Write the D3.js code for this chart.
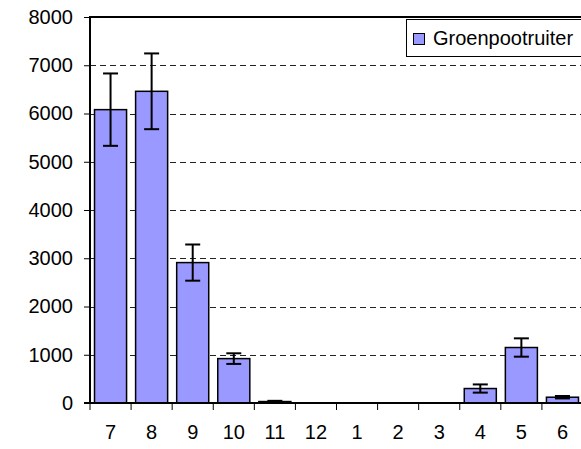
<!DOCTYPE html>
<html>
<head>
<meta charset="utf-8">
<script src="https://cdn.jsdelivr.net/npm/d3@7"></script>
<style>
  html, body { margin: 0; padding: 0; background: #fff; }
  svg { display: block; }
  text { font-family: "Liberation Sans", Arial, sans-serif; fill: #000; }
</style>
</head>
<body>
<script>
const months = ["7", "8", "9", "10", "11", "12", "1", "2", "3", "4", "5", "6"];
const values = [6080, 6460, 2910, 920, 30, 0, 0, 0, 0, 300, 1150, 120];
const errors = [750, 785, 375, 110, 15, 0, 0, 0, 0, 85, 190, 25];
const yTicks = [0, 1000, 2000, 3000, 4000, 5000, 6000, 7000, 8000];
const seriesName = "Groenpootruiter";

const W = 581, H = 449;
const pLeft = 90, pRight = 583, pTop = 17, pBottom = 403;

const svg = d3.select("body").append("svg").attr("width", W).attr("height", H);

const x = d3.scaleBand().domain(months).range([pLeft, pRight]).paddingInner(0.22).paddingOuter(0.11);
const y = d3.scaleLinear().domain([0, 8000]).range([pBottom, pTop]);

// gridlines
svg.append("g").selectAll("line").data(yTicks.filter(d => d > 0 && d < 8000)).join("line")
  .attr("x1", pLeft).attr("x2", pRight)
  .attr("y1", d => Math.round(y(d)) + 0.5).attr("y2", d => Math.round(y(d)) + 0.5)
  .attr("stroke", "#222").attr("stroke-width", 1).attr("stroke-dasharray", "6,4");

// plot border top
svg.append("line").attr("x1", pLeft).attr("x2", pRight + 5).attr("y1", pTop).attr("y2", pTop)
  .attr("stroke", "#000").attr("stroke-width", 2);

// bars
const data = months.map((m, i) => ({ m, v: values[i], e: errors[i] }));
svg.append("g").selectAll("rect").data(data).join("rect")
  .attr("x", d => x(d.m)).attr("width", x.bandwidth())
  .attr("y", d => y(d.v)).attr("height", d => y(0) - y(d.v))
  .attr("fill", "#9999FF").attr("stroke", "#000").attr("stroke-width", 1.5);

// error bars
const eg = svg.append("g").attr("stroke", "#000").attr("stroke-width", 2);
data.filter(d => d.e > 0).forEach(d => {
  const cx = x(d.m) + x.bandwidth() / 2;
  eg.append("line").attr("x1", cx).attr("x2", cx).attr("y1", y(d.v + d.e)).attr("y2", y(d.v - d.e));
  eg.append("line").attr("x1", cx - 7.5).attr("x2", cx + 7.5).attr("y1", y(d.v + d.e)).attr("y2", y(d.v + d.e));
  eg.append("line").attr("x1", cx - 7.5).attr("x2", cx + 7.5).attr("y1", y(d.v - d.e)).attr("y2", y(d.v - d.e));
});

// y axis
const yAxis = svg.append("g").attr("transform", `translate(${pLeft},0)`)
  .call(d3.axisLeft(y).tickValues(yTicks).tickSize(6).tickPadding(11).tickFormat(d3.format("d")));
yAxis.select(".domain").attr("stroke-width", 2).attr("d", `M0,${pTop - 1}V${pBottom + 1}`);
yAxis.selectAll(".tick line").attr("stroke-width", 1);
yAxis.selectAll("text").attr("font-size", 20).attr("font-family", "Liberation Sans, Arial, sans-serif");

// x axis
const xAxis = svg.append("g").attr("transform", `translate(0,${pBottom})`)
  .call(d3.axisBottom(x).tickSize(0).tickPadding(22));
xAxis.select(".domain").attr("stroke-width", 2).attr("d", `M${pLeft - 6},0H${pRight + 5}`);
xAxis.selectAll("text").attr("font-size", 20).attr("font-family", "Liberation Sans, Arial, sans-serif");
// band boundary ticks
const step = x.step();
const bounds = d3.range(months.length).map(i => x(months[i]) - x.paddingOuter() * step);
xAxis.append("g").selectAll("line").data(bounds).join("line")
  .attr("x1", d => d).attr("x2", d => d).attr("y1", 0).attr("y2", 7)
  .attr("stroke", "#000").attr("stroke-width", 1);

// legend
const lg = svg.append("g");
lg.append("rect").attr("x", 406.5).attr("y", 19.5).attr("width", 200).attr("height", 37)
  .attr("fill", "#fff").attr("stroke", "#000").attr("stroke-width", 1);
lg.append("rect").attr("x", 413.5).attr("y", 33.5).attr("width", 11).attr("height", 11)
  .attr("fill", "#9999FF").attr("stroke", "#000").attr("stroke-width", 1);
lg.append("text").attr("x", 433).attr("y", 45).attr("font-size", 20).text(seriesName);
</script>
</body>
</html>
